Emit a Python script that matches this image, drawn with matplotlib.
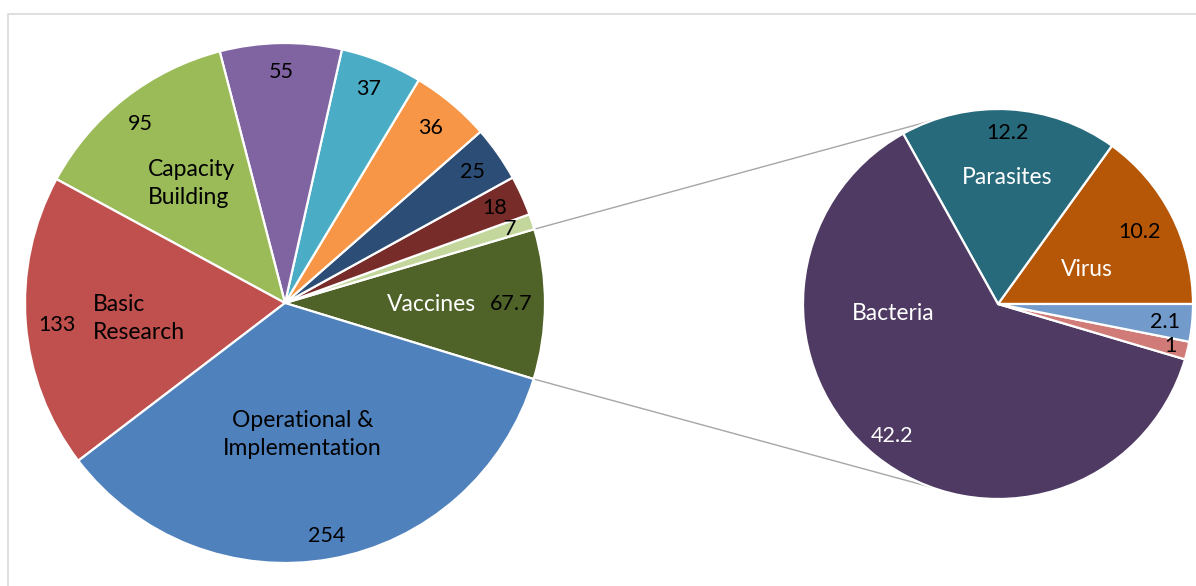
import matplotlib

matplotlib.use("Agg")
import matplotlib.pyplot as plt
import numpy as np

plt.rcParams["font.family"] = ["Lato", "DejaVu Sans"]

# main pie, listed counter-clockwise starting at the split-off slice
main_values = [67.7, 7, 18, 25, 36, 37, 55, 95, 133, 254]
main_names = ["Vaccines", "", "", "", "", "", "", "Capacity\nBuilding",
              "Basic\nResearch", "Operational &\nImplementation"]
main_colors = ["#4F6228", "#C3D69B", "#772C2A", "#2C4D75", "#F79646",
               "#4BACC6", "#8064A2", "#9BBB59", "#C0504D", "#4F81BD"]
main_val_text = ["67.7", "7", "18", "25", "36", "37", "55", "95", "133", "254"]

# secondary pie (break-down of Vaccines), counter-clockwise from 3 o'clock
sub_values = [10.2, 12.2, 42.2, 1, 2.1]
sub_names = ["Virus", "Parasites", "Bacteria", "", ""]
sub_colors = ["#B65708", "#276A7C", "#4E3A62", "#D17B78", "#729ACA"]
sub_val_text = ["10.2", "12.2", "42.2", "1", "2.1"]

W, H = 1196, 586
C1, R1 = (285, H - 303), 260
C2, R2 = (998, H - 304), 195

fig = plt.figure(figsize=(W / 100, H / 100), dpi=100)
ax = fig.add_axes([0, 0, 1, 1])

wp = dict(edgecolor="white", linewidth=1.6)
w1, _ = ax.pie(main_values, colors=main_colors, startangle=-17,
               center=C1, radius=R1, wedgeprops=wp)
w2, _ = ax.pie(sub_values, colors=sub_colors, startangle=0,
               center=C2, radius=R2, wedgeprops=wp)


def polar(c, r, ang):
    a = np.deg2rad(ang)
    return c[0] + r * np.cos(a), c[1] + r * np.sin(a)


FS_NUM = 15.5
FS_NAME = 16.5
# (radius fraction, angle offset) for value labels / category labels
main_val_pos = [(0.87, 0), (0.91, 0), (0.885, 0), (0.88, 0), (0.875, 0),
                (0.885, 0.5), (0.89, 0), (0.885, 1), (0.88, 1), (0.91, 0)]
main_name_pos = [(0.565, -0.5), None, None, None, None, None, None,
                 (0.585, 0), (0.565, 1.5), (0.51, -2.5)]
main_name_col = ["white"] + ["black"] * 9

for w, vt, vp, nm, npos, nc in zip(w1, main_val_text, main_val_pos,
                                   main_names, main_name_pos, main_name_col):
    mid = (w.theta1 + w.theta2) / 2
    x, y = polar(C1, vp[0] * R1, mid + vp[1])
    ax.text(x, y, vt, ha="center", va="center", fontsize=FS_NUM, color="black")
    if npos is not None:
        x, y = polar(C1, npos[0] * R1, mid + npos[1])
        ax.text(x, y, nm, ha="center", va="center", fontsize=FS_NAME, color=nc,
                multialignment="left" if "\n" in nm and "&" not in nm else "center",
                linespacing=1.4)

sub_val_pos = [(0.815, 0), (0.88, 0), (0.87, 0), (0.91, 0), (0.86, -0.5)]
sub_name_pos = [(0.49, -6), (0.65, -1), (0.54, -46), None, None]
sub_val_col = ["black", "black", "white", "black", "black"]

for w, vt, vp, vc, nm, npos in zip(w2, sub_val_text, sub_val_pos, sub_val_col,
                                   sub_names, sub_name_pos):
    mid = (w.theta1 + w.theta2) / 2
    x, y = polar(C2, vp[0] * R2, mid + vp[1])
    ax.text(x, y, vt, ha="center", va="center", fontsize=FS_NUM, color=vc)
    if npos is not None:
        x, y = polar(C2, npos[0] * R2, mid + npos[1])
        ax.text(x, y, nm, ha="center", va="center", fontsize=FS_NAME,
                color="white")

# connector lines from the split slice to the secondary pie
vac = w1[0]
for a1, a2 in [(vac.theta2, 110), (vac.theta1, -110)]:
    p1 = polar(C1, R1, a1)
    p2 = polar(C2, R2, a2)
    ax.plot([p1[0], p2[0]], [p1[1], p2[1]], color="#A6A6A6", lw=1, zorder=0)

# chart-area frame
ax.plot([8, 8, W + 5], [-5, H - 14, H - 14], color="#D9D9D9", lw=1.2,
        zorder=0)

ax.set_xlim(0, W)
ax.set_ylim(0, H)
ax.set_aspect("equal")
ax.axis("off")
fig.savefig("out.png", dpi=100)
